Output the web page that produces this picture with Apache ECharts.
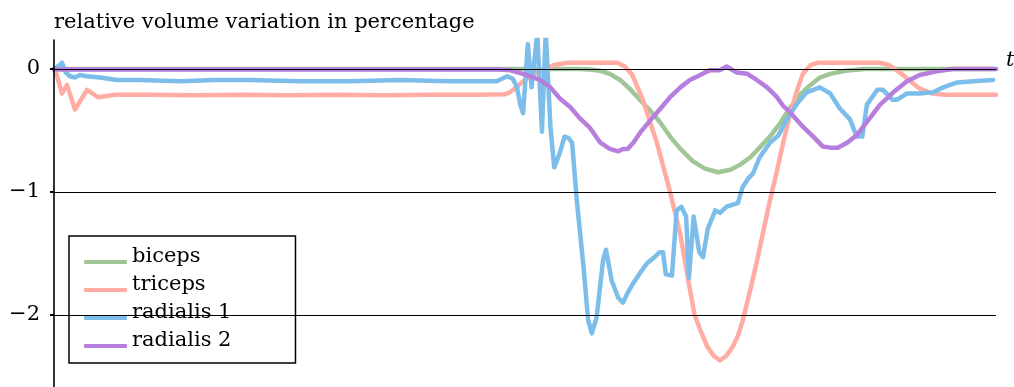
<!DOCTYPE html>
<html>
<head>
<meta charset="utf-8">
<script src="https://cdn.jsdelivr.net/npm/echarts@6/dist/echarts.min.js"></script>
<style>
html,body{margin:0;padding:0;background:#fff;}
#chart{width:1014px;height:387px;}
</style>
</head>
<body>
<div id="chart"></div>
<script>
const titleText = 'relative volume variation in percentage';
const seriesNames = ['biceps', 'triceps', 'radialis 1', 'radialis 2'];
const yTicks = [-2, -1, 0];

const biceps = [[0,0],[40,0],[55.8,0],[56.9,-0.005],[58.0,-0.015],[59.0,-0.04],[60.1,-0.09],[61.1,-0.16],[62.2,-0.25],[63.3,-0.34],[64.3,-0.43],[65.4,-0.55],[66.5,-0.65],[67.8,-0.75],[69.1,-0.81],[70.5,-0.84],[71.8,-0.82],[72.8,-0.78],[73.9,-0.72],[74.9,-0.64],[76.0,-0.55],[77.1,-0.44],[78.1,-0.32],[79.2,-0.21],[80.3,-0.13],[81.3,-0.07],[82.4,-0.04],[84.0,-0.015],[86.0,0],[100,0]];

const triceps = [[0,0],[0.3,-0.05],[0.85,-0.2],[1.38,-0.13],[2.23,-0.33],[3.5,-0.17],[4.67,-0.23],[6.5,-0.21],[10,-0.21],[15,-0.215],[20,-0.21],[25,-0.215],[30,-0.21],[35,-0.215],[40,-0.21],[45,-0.21],[47.9,-0.205],[48.4,-0.19],[49.1,-0.15],[49.8,-0.1],[50.7,-0.05],[51.6,-0.02],[53.0,0.03],[54.5,0.05],[57,0.05],[59.8,0.05],[60.6,0.02],[61.4,-0.05],[62.5,-0.25],[64.0,-0.6],[65.4,-1.0],[66.5,-1.35],[67.2,-1.66],[68.0,-2.0],[68.6,-2.12],[69.3,-2.25],[70.0,-2.33],[70.7,-2.37],[71.4,-2.33],[72.1,-2.25],[72.6,-2.17],[73.1,-2.05],[73.9,-1.8],[74.6,-1.57],[75.3,-1.32],[76.0,-1.07],[76.75,-0.83],[77.4,-0.6],[78.1,-0.38],[78.9,-0.17],[79.5,-0.04],[80.3,0.03],[81.1,0.05],[87.7,0.05],[88.7,0.03],[89.8,-0.03],[90.9,-0.1],[91.9,-0.16],[93.2,-0.2],[94.6,-0.21],[100,-0.21]];

const radialis1 = [[0,0],[0.6,0.03],[0.85,0.05],[1.27,-0.03],[1.7,-0.06],[2.23,-0.07],[2.76,-0.05],[3.5,-0.06],[4.88,-0.07],[6.69,-0.09],[9.13,-0.09],[13.4,-0.1],[17,-0.09],[20.8,-0.09],[26.1,-0.1],[31.4,-0.1],[36.7,-0.09],[42.0,-0.1],[47.0,-0.1],[48.1,-0.06],[48.7,-0.08],[49.15,-0.15],[49.5,-0.29],[49.8,-0.36],[50.3,0.2],[50.7,-0.15],[51.3,0.29],[51.8,-0.51],[52.2,0.3],[52.7,-0.47],[53.1,-0.8],[53.7,-0.68],[54.2,-0.55],[54.6,-0.56],[55.0,-0.6],[55.5,-1.07],[56.2,-1.6],[56.7,-2.04],[57.1,-2.15],[57.6,-2.02],[58.3,-1.55],[58.6,-1.47],[59.2,-1.72],[59.9,-1.86],[60.4,-1.9],[60.9,-1.82],[61.5,-1.74],[62.2,-1.66],[62.95,-1.58],[63.6,-1.54],[64.3,-1.49],[64.65,-1.49],[64.95,-1.67],[65.6,-1.68],[66.1,-1.15],[66.6,-1.12],[67.1,-1.2],[67.4,-1.7],[67.9,-1.2],[68.5,-1.49],[68.9,-1.53],[69.4,-1.3],[70.2,-1.15],[70.7,-1.17],[71.4,-1.12],[72.6,-1.09],[73.1,-0.96],[73.7,-0.89],[74.2,-0.85],[74.9,-0.72],[76.0,-0.6],[76.9,-0.54],[77.8,-0.41],[78.9,-0.28],[79.9,-0.19],[80.6,-0.17],[81.3,-0.15],[82.4,-0.2],[83.4,-0.32],[84.5,-0.41],[85.2,-0.55],[85.8,-0.55],[86.3,-0.29],[87.4,-0.17],[88.0,-0.17],[89.0,-0.25],[89.5,-0.25],[90.55,-0.2],[91.9,-0.2],[93.3,-0.19],[94.4,-0.15],[95.9,-0.11],[97.6,-0.1],[99.7,-0.09]];

const radialis2 = [[0,-0.005],[45,-0.005],[47.3,-0.005],[48.4,-0.01],[50.2,-0.05],[51.6,-0.09],[52.7,-0.15],[53.7,-0.24],[54.8,-0.31],[55.8,-0.4],[56.9,-0.48],[58.0,-0.6],[59.0,-0.65],[59.9,-0.67],[60.4,-0.65],[60.9,-0.65],[61.5,-0.6],[62.2,-0.52],[63.6,-0.39],[64.3,-0.33],[65.4,-0.23],[66.5,-0.15],[67.5,-0.09],[68.6,-0.05],[69.6,-0.01],[70.7,-0.01],[71.4,0.02],[72.5,-0.03],[73.6,-0.04],[74.6,-0.09],[75.7,-0.15],[76.75,-0.23],[77.4,-0.3],[78.1,-0.35],[79.5,-0.47],[80.6,-0.55],[81.6,-0.63],[82.4,-0.64],[83.2,-0.64],[84.2,-0.6],[85.2,-0.54],[86.3,-0.43],[87.7,-0.29],[89.1,-0.19],[90.55,-0.1],[91.9,-0.05],[93.7,-0.02],[95.4,0],[100,0]];

const seriesData = [biceps, triceps, radialis1, radialis2];
const colors = ['#a0c597', '#ffaca2', '#7dbdea', '#b77ede'];
const FONT = 'DejaVu Serif';

const chart = echarts.init(document.getElementById('chart'), null, {renderer: 'canvas'});
chart.setOption({
  animation: false,
  backgroundColor: '#ffffff',
  color: colors,
  title: {
    text: titleText,
    left: 54, top: 12, padding: 0,
    textStyle: {fontFamily: FONT, fontSize: 21, fontWeight: 'normal', color: '#000'}
  },
  grid: {left: 54, right: 18, top: 40, height: 398, containLabel: false, outerBoundsMode: 'none'},
  legend: {
    orient: 'vertical',
    left: 69, top: 236,
    data: seriesNames,
    icon: 'roundRect',
    itemWidth: 43, itemHeight: 4,
    itemGap: -4,
    padding: [10, 64, 1, 15],
    borderColor: '#000', borderWidth: 1.5, borderRadius: 0,
    backgroundColor: '#fff',
    formatter: name => '{a|' + name + '}',
    textStyle: {
      fontFamily: FONT, fontSize: 21, color: '#000',
      rich: {a: {fontFamily: FONT, fontSize: 21, color: '#000', lineHeight: 21, padding: [0, 0, 11, 0]}}
    }
  },
  xAxis: {
    type: 'value', min: 0, max: 100, z: 5,
    name: 't', nameLocation: 'end', nameGap: 10,
    nameTextStyle: {fontFamily: FONT, fontStyle: 'italic', fontSize: 21, color: '#000', verticalAlign: 'bottom', lineHeight: 16},
    axisLine: {onZero: true, lineStyle: {color: '#000', width: 1}},
    axisTick: {show: false}, axisLabel: {show: false}, splitLine: {show: false}
  },
  yAxis: {
    type: 'value', min: -3, max: 0.235, interval: 1, z: 5,
    axisLine: {show: true, lineStyle: {color: '#000', width: 1.6}},
    axisTick: {show: true, length: 4, customValues: yTicks, lineStyle: {color: '#000', width: 2}},
    axisLabel: {
      customValues: yTicks, margin: 14,
      fontFamily: FONT, fontSize: 21, color: '#000', padding: [0, 0, 12, 0],
      formatter: v => (v < 0 ? '\u2212' + Math.abs(v) : String(v))
    },
    splitLine: {show: true, showMaxLine: false, lineStyle: {color: '#000', width: 1}}
  },
  series: seriesNames.map((n, i) => ({
    name: n, type: 'line', data: seriesData[i], showSymbol: false, symbol: 'none',
    lineStyle: {width: 4.5, color: colors[i], cap: 'round', join: 'round'},
    itemStyle: {color: colors[i]}, z: 2 + i * 0.01
  }))
});
</script>
</body>
</html>
